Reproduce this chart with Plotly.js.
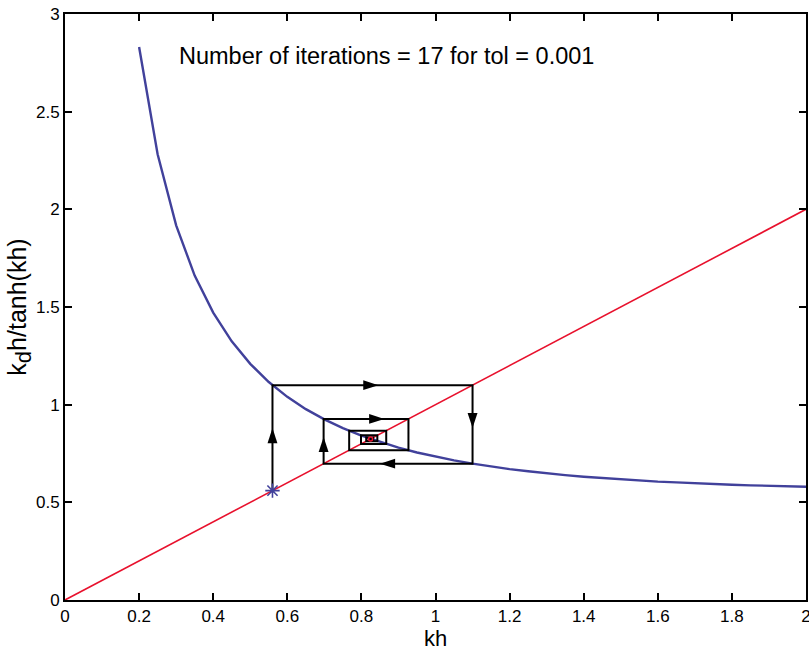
<!DOCTYPE html>
<html>
<head>
<meta charset="utf-8">
<script src="https://cdn.plot.ly/plotly-3.0.1.min.js"></script>
<style>html,body{margin:0;padding:0;background:#fff;}#chart{width:809px;height:651px;}</style>
</head>
<body>
<div id="chart"></div>
<script>
// Curve k_d h / tanh(kh)
const curveX = [0.20,0.25,0.30,0.35,0.40,0.45,0.50,0.55,0.60,0.65,0.70,0.75,0.80,0.85,0.90,0.95,1.00,1.05,1.10,1.15,1.20,1.25,1.30,1.35,1.40,1.45,1.50,1.55,1.60,1.65,1.70,1.75,1.80,1.85,1.90,1.95,2.00];
const curveY = [2.831,2.282,1.918,1.661,1.471,1.324,1.209,1.116,1.040,0.977,0.925,0.880,0.842,0.809,0.780,0.755,0.734,0.715,0.698,0.683,0.670,0.659,0.648,0.639,0.631,0.624,0.617,0.612,0.606,0.602,0.597,0.594,0.590,0.587,0.584,0.582,0.580];
// Line y = kh
const lineX = [0, 2];
const lineY = [0, 2];
// Iterates of the fixed-point scheme (cobweb corners)
const iterates = [0.560,1.100,0.698,0.927,0.767,0.867,0.799,0.843,0.813,0.832,0.820,0.828,0.823,0.826,0.824,0.8252,0.8246,0.8249];
// Start point and converged point
const startX = [0.56], startY = [0.56];
const rootX = [0.8248], rootY = [0.8248];
// Direction arrowheads along the cobweb (position and direction)
const arrowX = [0.560,0.846,1.100,0.850,0.698,0.862];
const arrowY = [0.880,1.100,0.880,0.698,0.835,0.927];
const arrowDir = ['up','right','down','left','up','right'];
const annText = 'Number of iterations = 17 for tol = 0.001';

// Build cobweb path from iterates
const webX = [iterates[0]], webY = [iterates[0]];
for (let i = 1; i < iterates.length; i++) {
  webX.push(iterates[i-1]); webY.push(iterates[i]);
  webX.push(iterates[i]);   webY.push(iterates[i]);
}
const angleMap = {up:0, right:90, down:180, left:270};

const traces = [
  {x: lineX, y: lineY, mode: 'lines', line: {color: '#e8112d', width: 1.6}, hoverinfo: 'skip'},
  {x: curveX, y: curveY, mode: 'lines', line: {color: '#41419b', width: 2.4}, hoverinfo: 'skip'},
  {x: webX, y: webY, mode: 'lines', line: {color: '#000000', width: 2}, hoverinfo: 'skip'},
  {x: arrowX, y: arrowY, mode: 'markers', marker: {symbol: 'arrow', size: 16, color: '#000', angle: arrowDir.map(d => angleMap[d]), line: {width: 0}}, hoverinfo: 'skip'},
  {x: startX, y: startY, mode: 'markers', marker: {symbol: 'asterisk-open', size: 12, color: '#41419b', line: {color: '#41419b', width: 1.6}}, hoverinfo: 'skip'},
  {x: rootX, y: rootY, mode: 'markers', marker: {symbol: 'circle-open', size: 4, color: '#e8112d', line: {color: '#e8112d', width: 1.5}}, hoverinfo: 'skip'}
];

const FAM = 'Liberation Sans, Arial, sans-serif';
const axisFont = {family: FAM, size: 17, color: '#000'};
const layout = {
  width: 809, height: 651,
  margin: {l: 65, r: 3, t: 14, b: 51},
  paper_bgcolor: '#fff', plot_bgcolor: '#fff',
  showlegend: false,
  font: axisFont,
  xaxis: {
    range: [0, 2], tickmode: 'linear', tick0: 0, dtick: 0.2,
    showgrid: false, zeroline: false,
    showline: true, linecolor: '#000', linewidth: 2, mirror: 'ticks',
    ticks: 'inside', ticklen: 7, tickwidth: 2, tickcolor: '#000',
    tickfont: axisFont, ticklabeloverflow: 'allow',
    title: {text: 'kh', font: {family: FAM, size: 22, color: '#000'}, standoff: 5}
  },
  yaxis: {
    range: [0, 3], tickmode: 'linear', tick0: 0, dtick: 0.5,
    showgrid: false, zeroline: false,
    showline: true, linecolor: '#000', linewidth: 2, mirror: 'ticks',
    ticks: 'inside', ticklen: 7, tickwidth: 2, tickcolor: '#000',
    tickfont: axisFont, ticklabeloverflow: 'allow',
    title: {text: 'k<sub><span style="font-size:22px">d</span></sub>h/tanh(kh)', font: {family: FAM, size: 25, color: '#000'}, standoff: 0}
  },
  annotations: [{
    x: 0.303, y: 2.785, xref: 'x', yref: 'y', xanchor: 'left', yanchor: 'middle',
    text: annText, showarrow: false,
    font: {family: FAM, size: 23.5, color: '#000'}
  }]
};

Plotly.newPlot('chart', traces, layout, {displayModeBar: false, staticPlot: true});
</script>
</body>
</html>
